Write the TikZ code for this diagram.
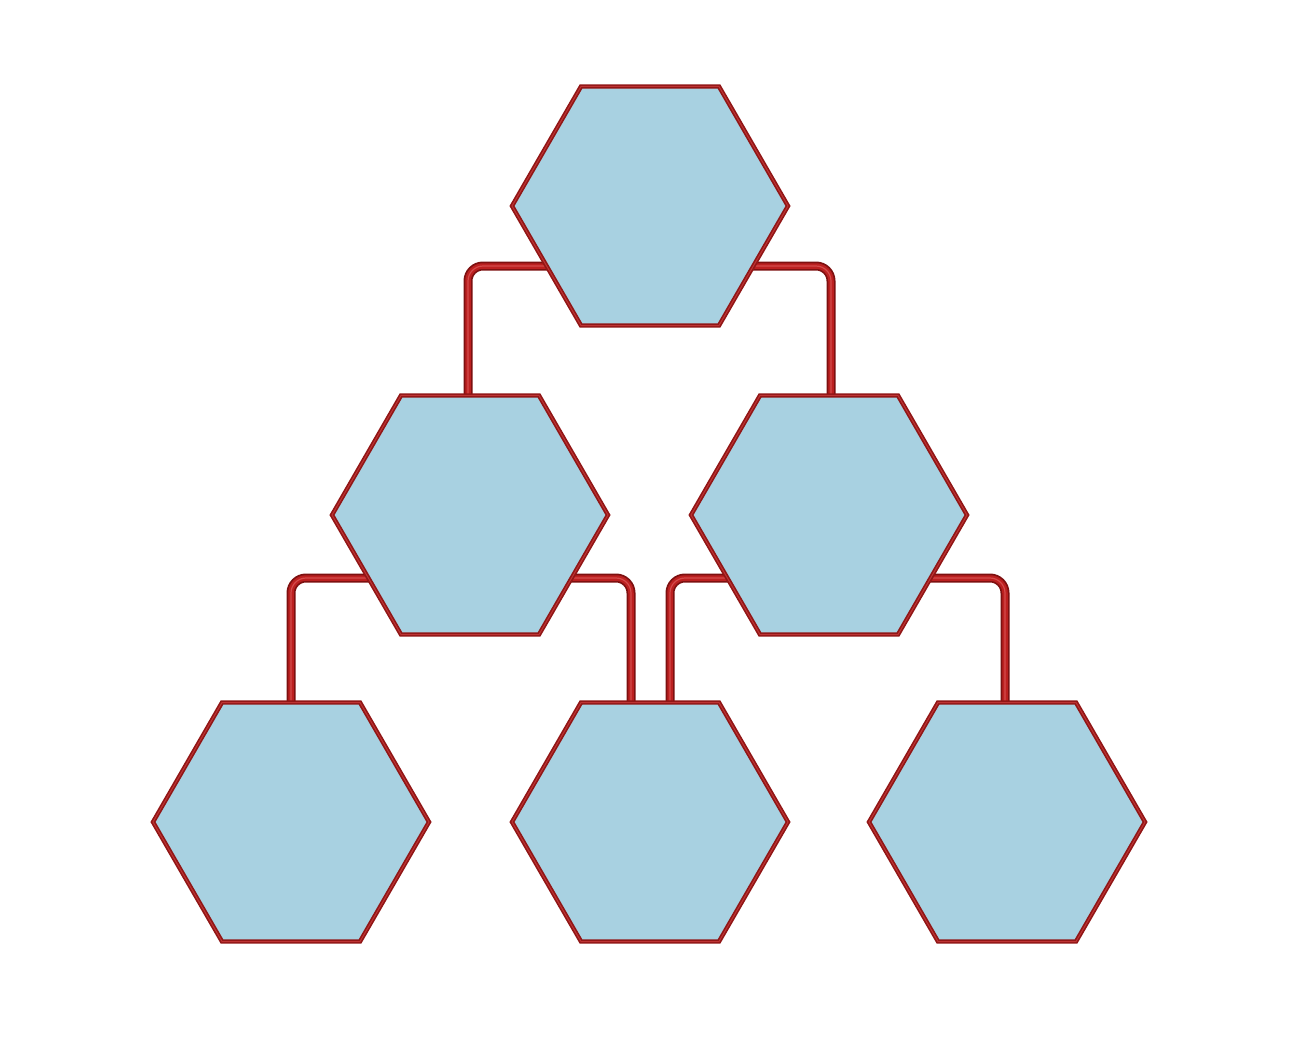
\documentclass[tikz,border=0pt]{standalone}
\usepackage{tikz}
\usetikzlibrary{shapes.geometric}
\pgfdeclarelayer{background}
\pgfsetlayers{background,main}
\definecolor{hexfill}{RGB}{168,209,225}
\definecolor{hexred}{RGB}{145,22,22}
\definecolor{hexlight}{RGB}{190,52,52}
\definecolor{pipedark}{RGB}{125,16,16}
\definecolor{pipered}{RGB}{188,32,32}
\definecolor{pipelight}{RGB}{212,75,75}

\begin{document}
\begin{tikzpicture}[x=1bp,y=-1bp,
  hexbox/.style={regular polygon, regular polygon sides=6, minimum size=276bp,
    inner sep=0pt, fill=hexfill, draw=hexred, line width=1.7bp,
    double=hexlight, double distance=1bp},
  pipe/.style={draw=pipedark, line width=9bp, rounded corners=15bp,
    postaction={draw=pipered, line width=5.5bp},
    postaction={draw=pipelight, line width=1.2bp}}]
\useasboundingbox (0,0) rectangle (1300,1037);
% top row
\node[hexbox] (top) at (650,206) {};
% middle row
\node[hexbox] (midL) at (470,515) {};
\node[hexbox] (midR) at (829,515) {};
% bottom row
\node[hexbox] (botL) at (291,822) {};
\node[hexbox] (botM) at (650,822) {};
\node[hexbox] (botR) at (1007,822) {};
% pipes
\begin{pgfonlayer}{background}
\draw[pipe] ([yshift=-60bp]top.center) -| ([xshift=-2bp]midL.north);
\draw[pipe] ([yshift=-60bp]top.center) -| ([xshift=2bp]midR.north);
\draw[pipe] ([yshift=-63bp]midL.center) -| (botL.north);
\draw[pipe] ([yshift=-63bp]midL.center) -| ([xshift=-19bp]botM.north);
\draw[pipe] ([yshift=-63bp]midR.center) -| ([xshift=20bp]botM.north);
\draw[pipe] ([yshift=-63bp]midR.center) -| ([xshift=-2bp]botR.north);
\end{pgfonlayer}
\end{tikzpicture}
\end{document}
